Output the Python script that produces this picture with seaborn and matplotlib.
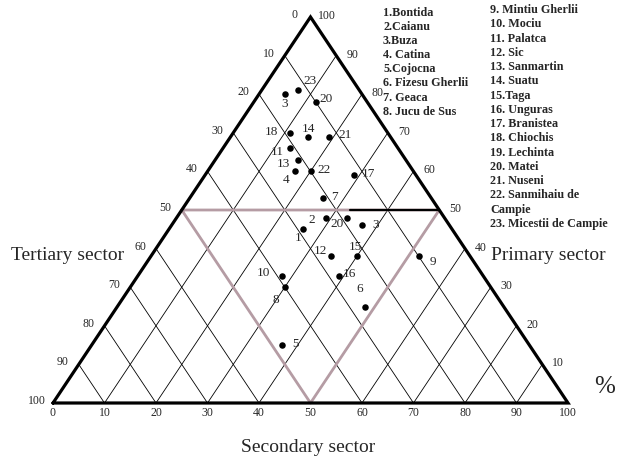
import matplotlib
matplotlib.use('Agg')
import matplotlib.pyplot as plt
import seaborn as sns
import pandas as pd

# ternary composition (%) of employment per locality
point_labels = ['1', '2', '3', '3', '4', '5', '6', '7', '8', '9', '10', '11',
                '12', '13', '14', '15', '16', '17', '18', '20', '20', '21', '22', '23']
primary = [45, 48, 80, 46, 60, 15, 25, 53, 30, 38, 33, 66,
           38, 63, 69, 38, 33, 59, 70, 78, 48, 69, 60, 81]
secondary = [26, 29, 5, 37, 17, 37, 48, 26, 30, 52, 28, 13,
             35, 16, 15, 40, 39, 29, 11, 12, 33, 19, 20, 7]
tertiary = [29, 23, 15, 17, 23, 48, 27, 21, 40, 10, 39, 21,
            27, 21, 16, 22, 28, 12, 19, 10, 19, 12, 20, 12]

# label offsets in pixels (right, up) relative to the dot
label_dx = [-5, -14, 0, 14, -9, 13, -5, 11, -9, 14, -19, -13,
            -11, -14, 1, -1, 11, 14, -18, 10, -9, 17, 14, 12]
label_dy = [-9, -2, -10, 0, -9, 1, 18, 1, -13, -6, 3, -4,
            5, -4, 8, 9, 2, 1, 1, 3, -6, 2, 1, 9]

ticks = [0, 10, 20, 30, 40, 50, 60, 70, 80, 90, 100]

legend_left = ['1.Bontida', '2.Caianu', '3.Buza', '4. Catina', '5.Cojocna',
               '6. Fizesu Gherlii', '7. Geaca', '8. Jucu de Sus']
legend_right = ['9. Mintiu Gherlii', '10. Mociu', '11. Palatca', '12. Sic',
                '13. Sanmartin', '14. Suatu', '15.Taga', '16. Unguras',
                '17. Branistea', '18. Chiochis', '19. Lechinta', '20. Matei',
                '21. Nuseni', '22. Sanmihaiu de', 'Campie', '23. Micestii de Campie']

sns.set_style('white')
plt.rcParams['font.family'] = ['Liberation Serif', 'DejaVu Serif']

df = pd.DataFrame({'label': point_labels, 'P': primary, 'S': secondary, 'T': tertiary})
# cartesian position: bottom-left = tertiary, bottom-right = secondary, apex = primary
df['x'] = (df['S'] + df['P'] / 2) / 100
df['y'] = df['P'] / 100

fig = plt.figure(figsize=(6.25, 4.61), dpi=100)
ax = fig.add_axes([0, 0, 1, 1])
ax.set_xlim(-53 / 515, 572 / 515)
ax.set_ylim(-58 / 386, 403 / 386)
ax.set_axis_off()

# grid: lines of constant tertiary and constant secondary
for k in ticks[1:-1]:
    f = k / 100
    ax.plot([(1 - f) / 2, 1 - f], [1 - f, 0], color='black', lw=0.6, zorder=1)
    ax.plot([f, f + (1 - f) / 2], [0, 1 - f], color='black', lw=0.6, zorder=1)

# inverted middle triangle and the 50 % primary line
ax.plot([0.25, 0.75, 0.5, 0.25], [0.5, 0.5, 0, 0.5], color='#b59ca4', lw=2, zorder=2)
ax.plot([0.577, 0.75], [0.5, 0.5], color='black', lw=1.6, zorder=2)

# triangle frame
ax.plot([0, 1, 0.5, 0], [0, 0, 1, 0], color='black', lw=2.3, zorder=3,
        solid_joinstyle='miter')

sns.scatterplot(data=df, x='x', y='y', color='black', s=22, linewidth=0,
                ax=ax, zorder=4, legend=False)
for i, row in df.iterrows():
    ax.annotate(row['label'], (row['x'], row['y']), xytext=(label_dx[i], label_dy[i]),
                textcoords='offset pixels', ha='center', va='center', fontsize=9.5)

# tick labels
for t in ticks:
    f = t / 100
    ax.annotate(str(t), ((1 - f) / 2, 1 - f), xytext=(-16, 2), textcoords='offset pixels',
                ha='center', va='center', fontsize=8.5)
    if t > 0:
        ax.annotate(str(t), (1 - f / 2, f), xytext=(16, 1), textcoords='offset pixels',
                    ha='center', va='center', fontsize=8.5)
    ax.annotate(str(t), (f, 0), xytext=(0, -10), textcoords='offset pixels',
                ha='center', va='center', fontsize=8.5)

W, H = 625, 461
fig.text(68 / W, 1 - 256 / H, 'Tertiary sector', ha='center', va='center', fontsize=14)
fig.text(548 / W, 1 - 256 / H, 'Primary sector', ha='center', va='center', fontsize=14)
fig.text(308 / W, 1 - 447 / H, 'Secondary sector', ha='center', va='center', fontsize=14)
fig.text(605 / W, 1 - 387 / H, '%', ha='center', va='center', fontsize=18)

for i, name in enumerate(legend_left):
    fig.text(383 / W, 1 - (13 + 14.1 * i) / H, name, ha='left', va='center',
             fontsize=8.7, fontweight='bold')
for i, name in enumerate(legend_right):
    fig.text(490 / W, 1 - (10 + 14.25 * i) / H, name, ha='left', va='center',
             fontsize=8.7, fontweight='bold')

fig.savefig('out.png', dpi=100)
